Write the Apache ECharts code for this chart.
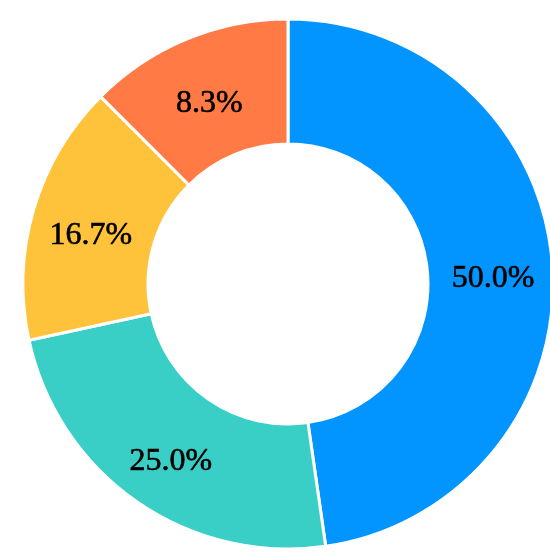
<!DOCTYPE html>
<html>
<head>
<meta charset="utf-8">
<script src="https://cdn.jsdelivr.net/npm/echarts@6/dist/echarts.min.js"></script>
<style>
html,body{margin:0;padding:0;background:#fff;}
#chart{width:550px;height:555px;}
</style>
</head>
<body>
<div id="chart"></div>
<script>
const categories = ['A', 'B', 'C', 'D'];
const values = [6, 3, 2, 1];
const colors = ['#0395FF', '#3ACFC6', '#FFC23B', '#FF7A45'];

const chart = echarts.init(document.getElementById('chart'), null, {renderer: 'canvas'});
chart.setOption({
  animation: false,
  series: [{
    type: 'pie',
    center: [288, 284],
    radius: [140, 265],
    startAngle: 90,
    clockwise: true,
    minAngle: 45,
    avoidLabelOverlap: false,
    itemStyle: {borderColor: '#fff', borderWidth: 3},
    label: {
      show: true,
      position: 'inside',
      formatter: function (p) { return '{s| }\n{v|' + p.percent.toFixed(1) + '%}'; },
      rich: {
        s: {fontSize: 10, lineHeight: 18},
        v: {
          fontFamily: 'Liberation Serif',
          fontSize: 32,
          lineHeight: 36,
          color: '#000',
          textBorderColor: '#000',
          textBorderWidth: 0.6
        }
      }
    },
    labelLine: {show: false},
    data: categories.map((c, i) => ({name: c, value: values[i], itemStyle: {color: colors[i]}}))
  }]
});
</script>
</body>
</html>
